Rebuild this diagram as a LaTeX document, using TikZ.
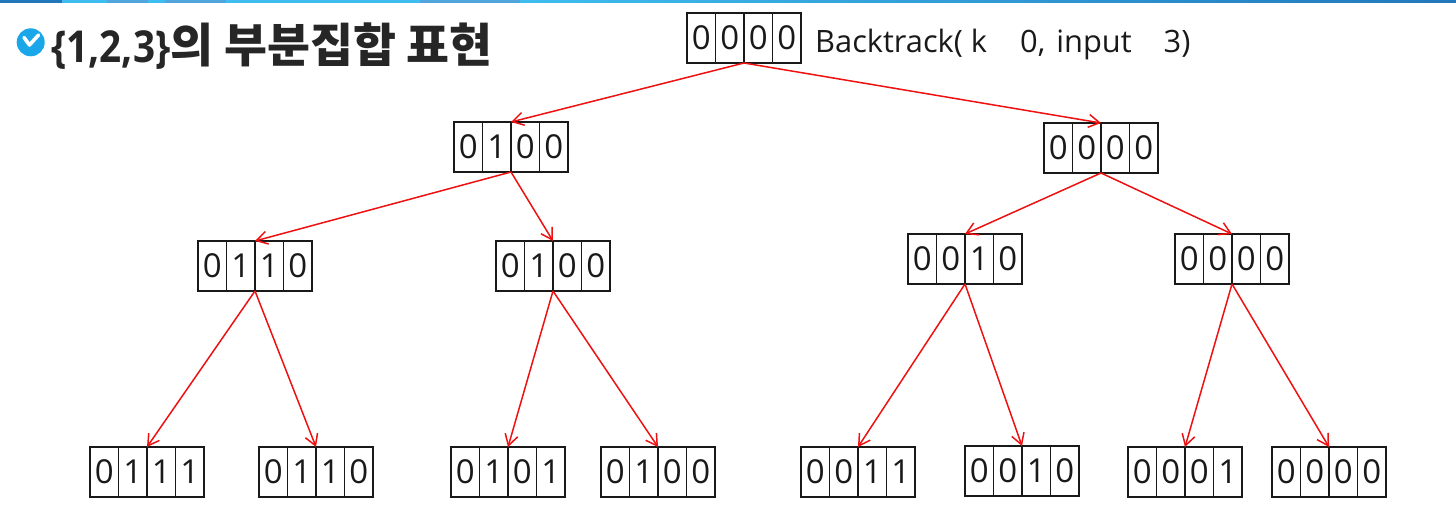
\documentclass[tikz,border=0pt]{standalone}
\usepackage{fontspec}
\usetikzlibrary{arrows.meta}
\setmainfont{Open Sans}
\newfontfamily\krfont{Noto Sans CJK KR}
\newfontfamily\titlelat[FakeStretch=0.88]{Open Sans}
\definecolor{bardark}{HTML}{2277BB}
\definecolor{barlight}{HTML}{3FBDEE}
\definecolor{barmid}{HTML}{4FA5DC}
\definecolor{bulletblue}{HTML}{1AA7EA}
\definecolor{linkred}{HTML}{EE1111}
\tikzset{
  x=1pt,y=-1pt,
  reg/.style={draw=black!90,line width=1.4pt,minimum width=114pt,minimum height=50pt,inner sep=0pt,outer sep=0pt},
  cellbox/.style={draw=black!90,line width=1.2pt,minimum width=28.5pt,minimum height=50pt,inner sep=0pt,outer sep=0pt,font=\fontsize{33}{33}\selectfont,text=black!90,anchor=center},
  link/.style={draw=linkred,line width=1.5pt,-{Straight Barb[length=11pt,width=13pt,line width=1.5pt]}},
}
\newcommand{\regbox}[4]{%
  \node[reg] (#1) at (#2,#3) {};
  \regcells{#1}{#2}{#3}#4\relax
}
\def\regcells#1#2#3#4#5#6#7\relax{%
  \node[cellbox] (#1a) at (#2-42.75,#3) {#4};
  \node[cellbox] (#1b) at (#2-14.25,#3) {#5};
  \node[cellbox] (#1c) at (#2+14.25,#3) {#6};
  \node[cellbox] (#1d) at (#2+42.75,#3) {#7};
}
\begin{document}
\begin{tikzpicture}
\useasboundingbox (0,0) rectangle (1456,529);
\fill[white] (0,0) rectangle (1456,529);
\fill[bardark] (0,0) rectangle (62,3);
\fill[barlight] (62,0) rectangle (107,3);
\fill[barmid] (107,0) rectangle (148,3);
\fill[barlight] (148,0) rectangle (165,3);
\fill[barmid] (165,0) rectangle (226,3);
\fill[barlight] (226,0) rectangle (420,3);
\fill[barmid] (420,0) rectangle (520,3);
\shade[left color=barlight,right color=bardark] (520,0) rectangle (1456,3);
% title
\fill[bulletblue] (30.7,42.3) circle (14);
\draw[white,line width=3.6pt,line cap=round,line join=round] (24,37.5) -- (29.5,45) -- (38.5,35);
\node[anchor=west,inner sep=0pt,text=black!85,font=\bfseries] (title) at (51,46) {{\titlelat\bfseries\fontsize{44}{44}\selectfont \{1,2,3\}}{\krfont\bfseries\fontsize{46.7}{46.7}\selectfont 의 부분집합 표현}};
\node[anchor=west,inner sep=0pt,text=black!90,font=\fontsize{30.8}{30.8}\selectfont] (call) at (815,45) {Backtrack( k\hspace{33pt}0,\hspace{11pt}input\hspace{32pt}3)};
% registers
\regbox{r}{744}{38}{0000}
\regbox{l}{511}{147}{0100}
\regbox{g}{1101}{148}{0000}
\regbox{ll}{255}{266}{0110}
\regbox{lr}{553}{266}{0100}
\regbox{gl}{965}{259}{0010}
\regbox{gr}{1232}{259}{0000}
\regbox{lll}{147}{472}{0111}
\regbox{llr}{316}{472}{0110}
\regbox{lrl}{508}{472}{0101}
\regbox{lrr}{658}{472}{0100}
\regbox{gll}{858}{472}{0011}
\regbox{glr}{1022}{471}{0010}
\regbox{grl}{1185}{472}{0001}
\regbox{grr}{1329}{472}{0000}
% links
\draw[link] (r.south) -- (l.north);
\draw[link] (r.south) -- (g.north);
\draw[link] (l.south) -- (ll.north);
\draw[link] (l.south) -- (lr.north);
\draw[link] (g.south) -- (gl.north);
\draw[link] (g.south) -- (gr.north);
\draw[link] (ll.south) -- (lll.north);
\draw[link] (ll.south) -- (llr.north);
\draw[link] (lr.south) -- (lrl.north);
\draw[link] (lr.south) -- (lrr.north);
\draw[link] (gl.south) -- (gll.north);
\draw[link] (gl.south) -- (glr.north);
\draw[link] (gr.south) -- (grl.north);
\draw[link] (gr.south) -- (grr.north);
\end{tikzpicture}
\end{document}
